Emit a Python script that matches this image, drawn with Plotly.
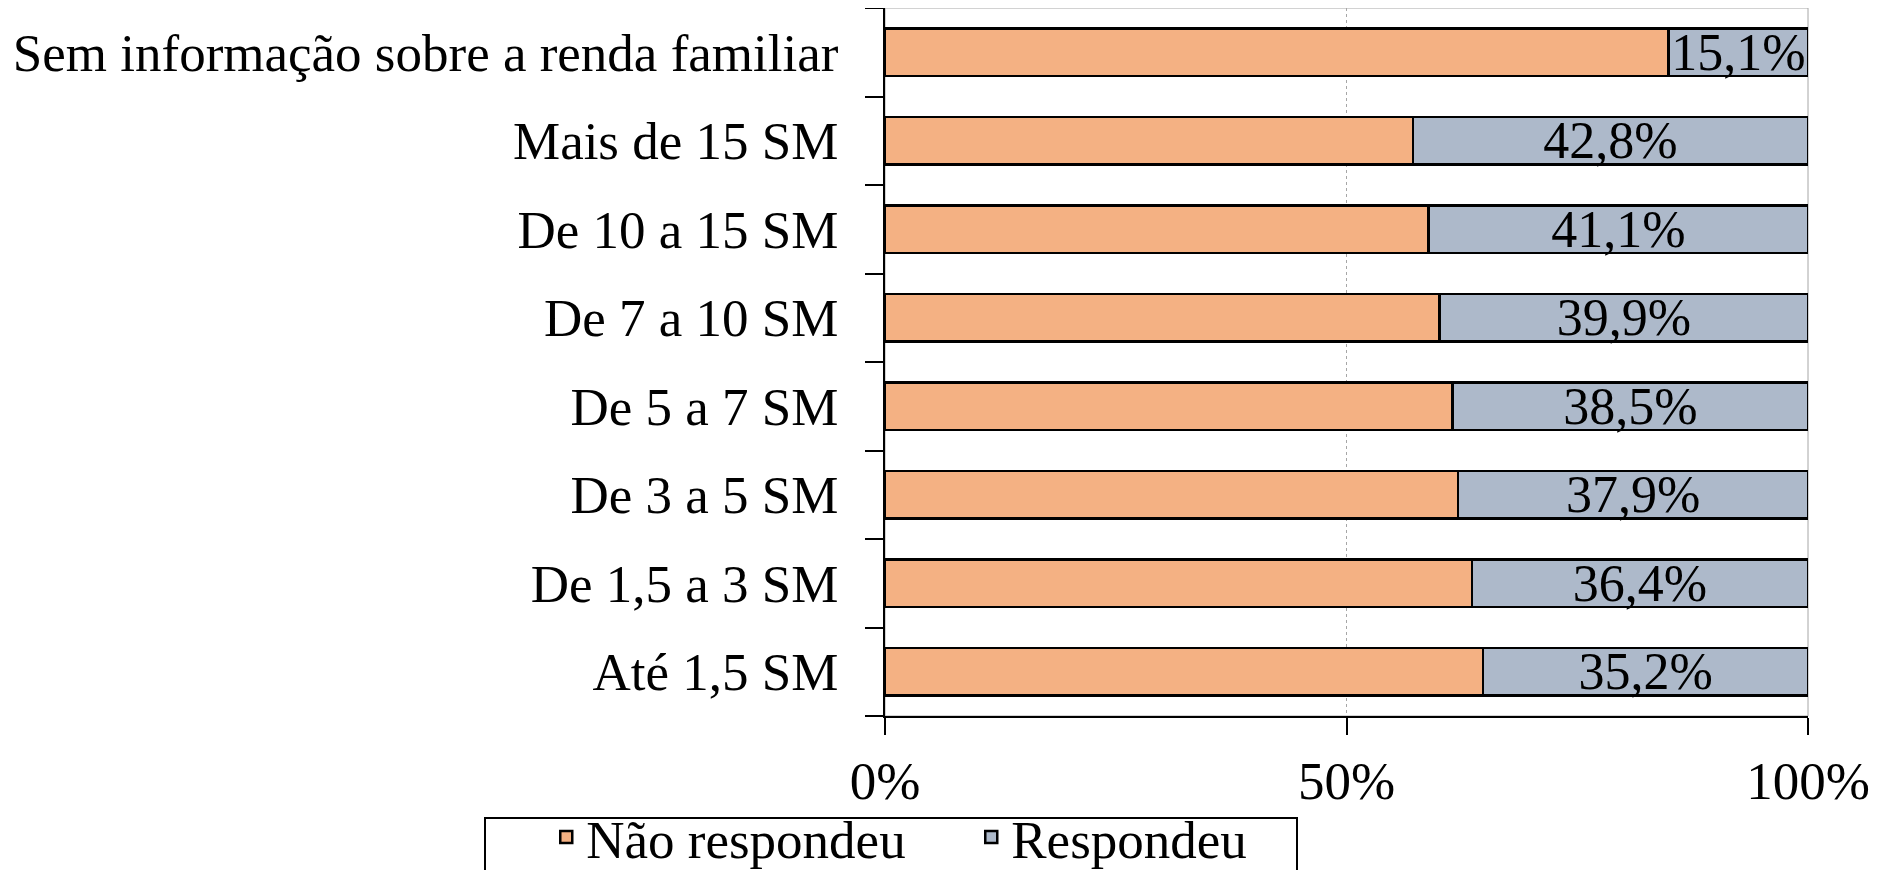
import plotly.graph_objects as go

categories = [
    "Até 1,5 SM",
    "De 1,5 a 3 SM",
    "De 3 a 5 SM",
    "De 5 a 7 SM",
    "De 7 a 10 SM",
    "De 10 a 15 SM",
    "Mais de 15 SM",
    "Sem informação sobre a renda familiar",
]
respondeu = [35.2, 36.4, 37.9, 38.5, 39.9, 41.1, 42.8, 15.1]
nao_respondeu = [round(100 - v, 1) for v in respondeu]

x_ticks = [0, 50, 100]
x_tick_labels = ["0%", "50%", "100%"]

FONT = "Liberation Serif, Times New Roman, serif"
ORANGE = "#F4B183"
GREYBLUE = "#ADB9CA"

fig = go.Figure()

fig.add_trace(
    go.Bar(
        y=categories,
        x=nao_respondeu,
        orientation="h",
        name="Não respondeu",
        marker={"color": ORANGE, "line": {"color": "black", "width": 2.5}},
    )
)

fig.add_trace(
    go.Bar(
        y=categories,
        x=respondeu,
        orientation="h",
        name="Respondeu",
        marker={"color": GREYBLUE, "line": {"color": "black", "width": 2.5}},
        text=[f"{v:.1f}%".replace(".", ",") for v in respondeu],
        textposition="inside",
        insidetextanchor="middle",
        constraintext="none",
        textfont={"family": FONT, "size": 52, "color": "black"},
    )
)

# page body has an 8px margin, so the figure is a bit smaller than the window
PLOT_H = 708

fig.update_layout(
    width=1870,
    height=862,
    barmode="stack",
    bargap=0.46,
    plot_bgcolor="white",
    paper_bgcolor="white",
    font={"family": FONT, "size": 53, "color": "black"},
    margin={"l": 877, "r": 70, "t": 0, "b": 154, "autoexpand": False},
    showlegend=True,
    legend={
        "orientation": "h",
        "x": -0.367,
        "y": -0.113,
        "xanchor": "left",
        "yanchor": "top",
        "borderwidth": 0,
        "bgcolor": "rgba(0,0,0,0)",
        "font": {"family": FONT, "size": 53},
        "traceorder": "normal",
        "itemwidth": 30,
        "entrywidth": 380,
    },
    xaxis={
        "range": [0, 100],
        "tickvals": x_ticks,
        "ticktext": x_tick_labels,
        "showgrid": True,
        "gridcolor": "#a6a6a6",
        "griddash": "dot",
        "gridwidth": 1,
        "showline": True,
        "linecolor": "black",
        "linewidth": 2,
        "ticks": "outside",
        "ticklen": 17,
        "tickwidth": 2,
        "tickcolor": "black",
        "ticklabelstandoff": 0,
        "zeroline": False,
    },
    yaxis={
        "type": "category",
        "categoryorder": "array",
        "categoryarray": categories,
        "tickson": "boundaries",
        "ticks": "outside",
        "ticklen": 18,
        "tickwidth": 2,
        "tickcolor": "black",
        "showline": True,
        "linecolor": "black",
        "linewidth": 2,
        "showgrid": False,
        "ticklabelstandoff": 34,
    },
)

# thin grey frame on top and right of the plot area
fig.add_shape(
    type="rect", xref="paper", yref="paper", x0=0, x1=1, y0=0, y1=1,
    line={"color": "#a6a6a6", "width": 1}, layer="below",
)
# legend frame
fig.add_shape(
    type="rect", xref="paper", yref="paper",
    x0=-400 / 923, x1=412 / 923,
    y0=-0.4, y1=-102 / PLOT_H,
    line={"color": "black", "width": 2}, fillcolor="rgba(0,0,0,0)",
)

fig.write_html("out.html")
